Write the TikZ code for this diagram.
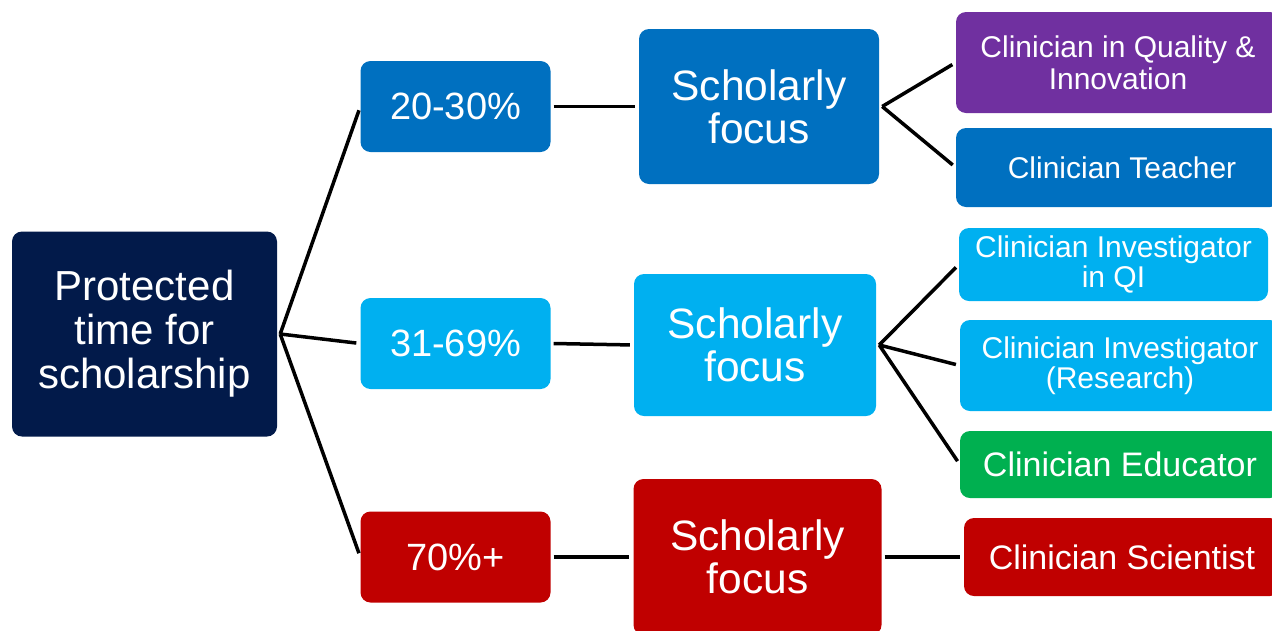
\documentclass[tikz,border=0pt]{standalone}
\usepackage{fontspec}
\setmainfont{Liberation Sans}

\definecolor{navy}{HTML}{021A4A}
\definecolor{blueA}{HTML}{0070C0}
\definecolor{blueB}{HTML}{00B0F0}
\definecolor{redA}{HTML}{C00000}
\definecolor{purpleA}{HTML}{7030A0}
\definecolor{greenA}{HTML}{00B050}

\tikzset{
  tbox/.style={rounded corners=10pt, text=white, align=center, inner sep=0pt},
  link/.style={line width=3.5pt, shorten >=4pt},
}

\begin{document}
\begin{tikzpicture}[x=1pt,y=-1pt]
  \useasboundingbox (0,0) rectangle (1272,630);
  \clip (0,0) rectangle (1272,630);

  \node[tbox, fill=navy, minimum width=265pt, minimum height=205pt,
    font=\fontsize{42}{44}\selectfont] (root) at (144.5,334) {Protected\\time for\\scholarship};

  % share of time
  \foreach \n/\c/\y/\t in {p1/blueA/106.5/20-30\%, p2/blueB/343.5/31-69\%, p3/redA/557/70\%+}{
    \node[tbox, fill=\c, minimum width=190pt, minimum height=91pt,
      font=\fontsize{38}{40}\selectfont] (\n) at (455.5,\y) {\t};
  }

  % scholarly focus
  \foreach \n/\c/\x/\y/\w/\h in {s1/blueA/759/106.5/240/155, s2/blueB/755/345/242/142, s3/redA/757.5/557/248/156}{
    \node[tbox, fill=\c, minimum width=\w pt, minimum height=\h pt,
      font=\fontsize{42.5}{43}\selectfont] (\n) at (\x,\y) {Scholarly\\focus};
  }

  % streams
  \node[tbox, fill=purpleA, minimum width=324pt, minimum height=101pt,
    font=\fontsize{30}{32}\selectfont] (r1) at (1118,62.5) {Clinician in Quality \&\\Innovation};
  \node[tbox, fill=blueA, minimum width=324pt, minimum height=79pt,
    font=\fontsize{30}{32}\selectfont] (r2) at (1118,167.5) {\hspace{8pt}Clinician Teacher};
  \node[tbox, fill=blueB, minimum width=309pt, minimum height=73pt,
    font=\fontsize{30}{30}\selectfont] (r3) at (1113.5,264.5) {Clinician Investigator\\in QI};
  \node[tbox, fill=blueB, minimum width=320pt, minimum height=91pt,
    font=\fontsize{30}{30}\selectfont] (r4) at (1120,365.5) {Clinician Investigator\\(Research)};
  \node[tbox, fill=greenA, minimum width=320pt, minimum height=67pt,
    font=\fontsize{34}{36}\selectfont] (r5) at (1120,464.5) {Clinician Educator};
  \node[tbox, fill=redA, minimum width=316pt, minimum height=78pt,
    font=\fontsize{34}{36}\selectfont] (r6) at (1122,557) {Clinician Scientist};

  \foreach \a/\b in {root/p1, root/p2, root/p3, p1/s1, p2/s2, p3/s3,
                     s1/r1, s1/r2, s2/r3, s2/r4, s2/r5, s3/r6}
    \draw[link] ([xshift=3pt]\a.east) -- (\b.west);

\end{tikzpicture}
\end{document}
